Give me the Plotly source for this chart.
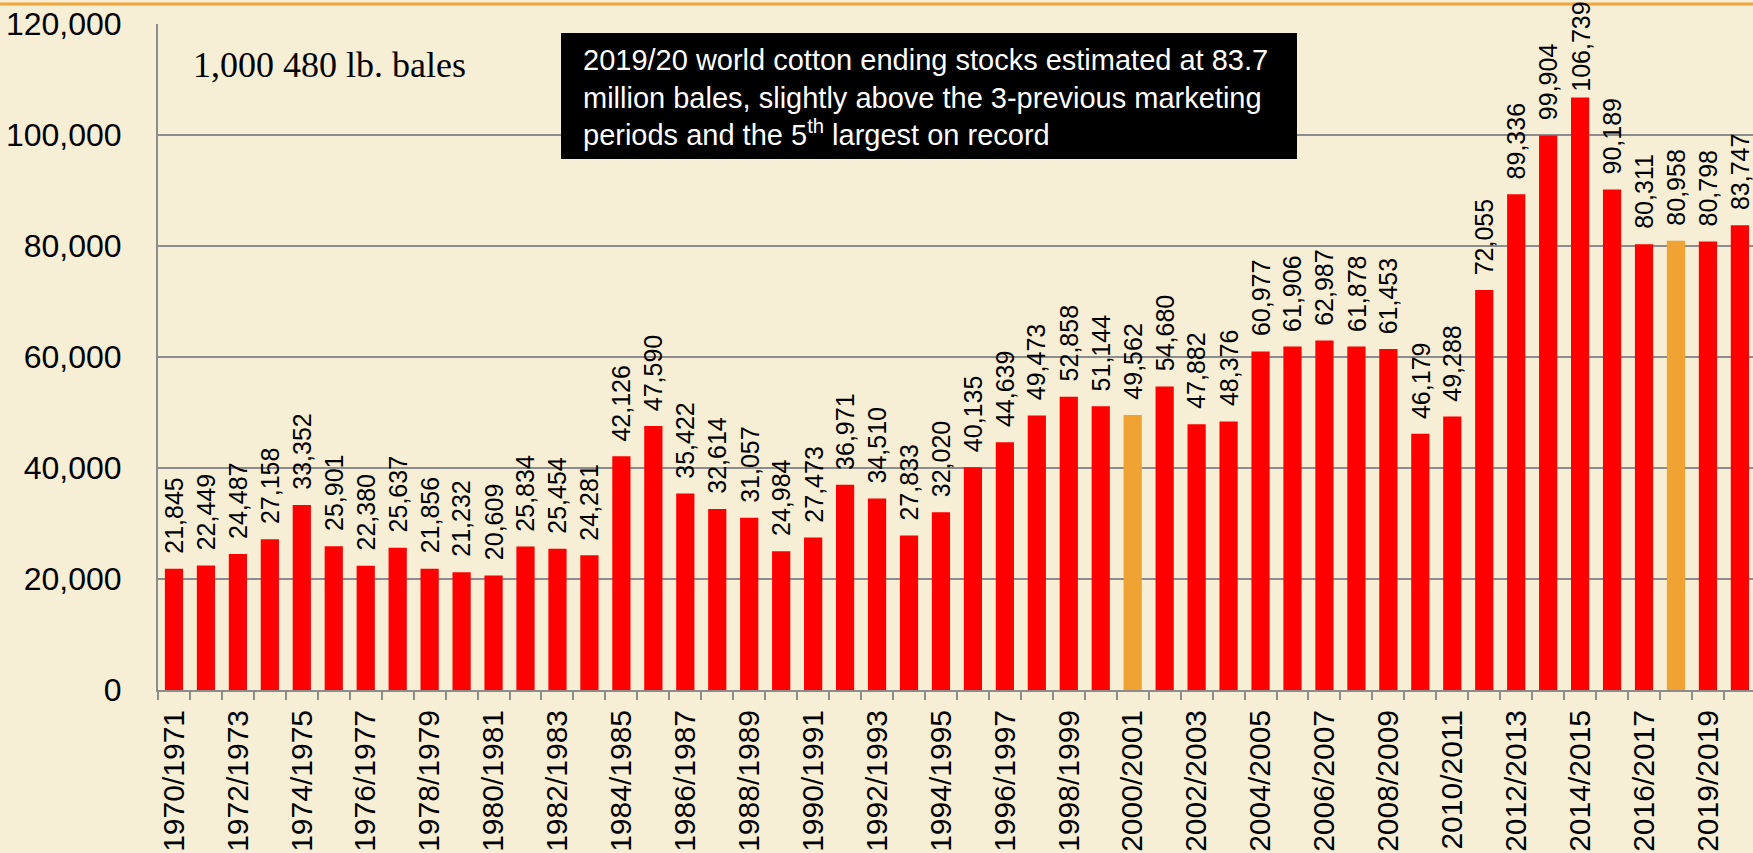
import plotly.graph_objects as go

categories = [
    "1970/1971", "1971/1972", "1972/1973", "1973/1974", "1974/1975", "1975/1976",
    "1976/1977", "1977/1978", "1978/1979", "1979/1980", "1980/1981", "1981/1982",
    "1982/1983", "1983/1984", "1984/1985", "1985/1986", "1986/1987", "1987/1988",
    "1988/1989", "1989/1990", "1990/1991", "1991/1992", "1992/1993", "1993/1994",
    "1994/1995", "1995/1996", "1996/1997", "1997/1998", "1998/1999", "1999/2000",
    "2000/2001", "2001/2002", "2002/2003", "2003/2004", "2004/2005", "2005/2006",
    "2006/2007", "2007/2008", "2008/2009", "2009/2010", "2010/2011", "2011/2012",
    "2012/2013", "2013/2014", "2014/2015", "2015/2016", "2016/2017", "2017/2018",
    "2018/2019", "2019/2020",
]

ending_stocks = [
    21845, 22449, 24487, 27158, 33352, 25901, 22380, 25637, 21856, 21232,
    20609, 25834, 25454, 24281, 42126, 47590, 35422, 32614, 31057, 24984,
    27473, 36971, 34510, 27833, 32020, 40135, 44639, 49473, 52858, 51144,
    49562, 54680, 47882, 48376, 60977, 61906, 62987, 61878, 61453, 46179,
    49288, 72055, 89336, 99904, 106739, 90189, 80311, 80958, 80798, 83747,
]

highlighted = ["2000/2001", "2017/2018"]

# labels shown on every other category (as printed in the source)
shown_tick_labels = [
    "1970/1971", "1972/1973", "1974/1975", "1976/1977", "1978/1979",
    "1980/1981", "1982/1983", "1984/1985", "1986/1987", "1988/1989",
    "1990/1991", "1992/1993", "1994/1995", "1996/1997", "1998/1999",
    "2000/2001", "2002/2003", "2004/2005", "2006/2007", "2008/2009",
    "2010/2011", "2012/2013", "2014/2015", "2016/2017", "2019/2019",
]

y_tick_vals = [0, 20000, 40000, 60000, 80000, 100000, 120000]

unit_note = "1,000 480 lb. bales"
callout = ("2019/20 world cotton ending stocks estimated at 83.7<br>"
           "million bales, slightly above the 3-previous marketing<br>"
           "periods and the 5<sup>th</sup> largest on record")

RED = "#ff0000"
ORANGE = "#f0a232"
GRID = "#8c8c8c"
BG = "#f7eed6"

W, H = 1753, 853
L, T = 158, 24
B_PX = 690          # pixel y of the x axis
R_PX = 1753
PW = R_PX - L
PH = B_PX - T


def px_x(x):
    return (x - L) / PW


def px_y(y):
    return (B_PX - y) / PH


colors = [ORANGE if c in highlighted else RED for c in categories]

ticktext = []
for i, c in enumerate(categories):
    ticktext.append(shown_tick_labels[i // 2] if i % 2 == 0 else "")

fig = go.Figure()
fig.add_trace(go.Bar(
    x=categories,
    y=ending_stocks,
    marker=dict(color=colors, line=dict(width=0)),
    hoverinfo="x+y",
))

annotations = []
for c, v in zip(categories, ending_stocks):
    gap = 16 if v < 100000 else 7
    annotations.append(dict(
        x=c, y=v, xref="x", yref="y",
        text=f"{v:,}", showarrow=False, textangle=-90,
        xanchor="center", yanchor="bottom", yshift=gap - 2,
        font=dict(family="Liberation Sans, Arial, sans-serif", size=25, color="#000000"),
        borderpad=0,
    ))

annotations.append(dict(
    x=px_x(191), y=px_y(65), xref="paper", yref="paper",
    text=unit_note, showarrow=False, xanchor="left", yanchor="middle",
    font=dict(family="Liberation Serif, Times New Roman, serif", size=36, color="#000000"),
))

annotations.append(dict(
    x=px_x(581), y=px_y(97), xref="paper", yref="paper",
    text=callout, showarrow=False, xanchor="left", yanchor="middle", align="left",
    font=dict(family="Liberation Sans, Arial, sans-serif", size=29, color="#ffffff"),
))

shapes = [
    dict(type="rect", xref="paper", yref="paper",
         x0=px_x(561), x1=px_x(1297), y0=px_y(159), y1=px_y(33),
         fillcolor="#000000", line=dict(width=0), layer="above"),
    dict(type="line", xref="paper", yref="paper",
         x0=px_x(0), x1=1.0, y0=px_y(4), y1=px_y(4),
         line=dict(color="#f2a53a", width=3)),
]

fig.update_layout(
    width=W, height=H,
    margin=dict(l=L, r=W - R_PX, t=T, b=H - B_PX, pad=0),
    paper_bgcolor=BG,
    plot_bgcolor="rgba(0,0,0,0)",
    showlegend=False,
    bargap=0.43,
    annotations=annotations,
    shapes=shapes,
    font=dict(family="Liberation Sans, Arial, sans-serif", color="#000000"),
)

fig.update_xaxes(
    type="category",
    categoryorder="array", categoryarray=categories,
    range=[-0.5, 49.41],
    tickmode="array", tickvals=categories, ticktext=ticktext,
    tickson="boundaries",
    ticks="outside", ticklen=8, tickwidth=2, tickcolor=GRID,
    tickangle=-90,
    tickfont=dict(family="Liberation Sans, Arial, sans-serif", size=30, color="#000000"),
    ticklabelstandoff=6,
    showline=True, linecolor=GRID, linewidth=2,
    showgrid=False, zeroline=False,
)

fig.update_yaxes(
    range=[0, 120000],
    tickmode="array", tickvals=y_tick_vals,
    tickformat=",d",
    ticks="",
    tickfont=dict(family="Liberation Sans, Arial, sans-serif", size=32, color="#000000"),
    ticklabelstandoff=28,
    showline=True, linecolor=GRID, linewidth=2,
    showgrid=True, gridcolor=GRID, gridwidth=2,
    zeroline=False,
)

fig.write_html(
    "out.html",
    config={"displayModeBar": False},
    post_script="document.body.style.margin='0';document.body.style.overflow='hidden';",
)
